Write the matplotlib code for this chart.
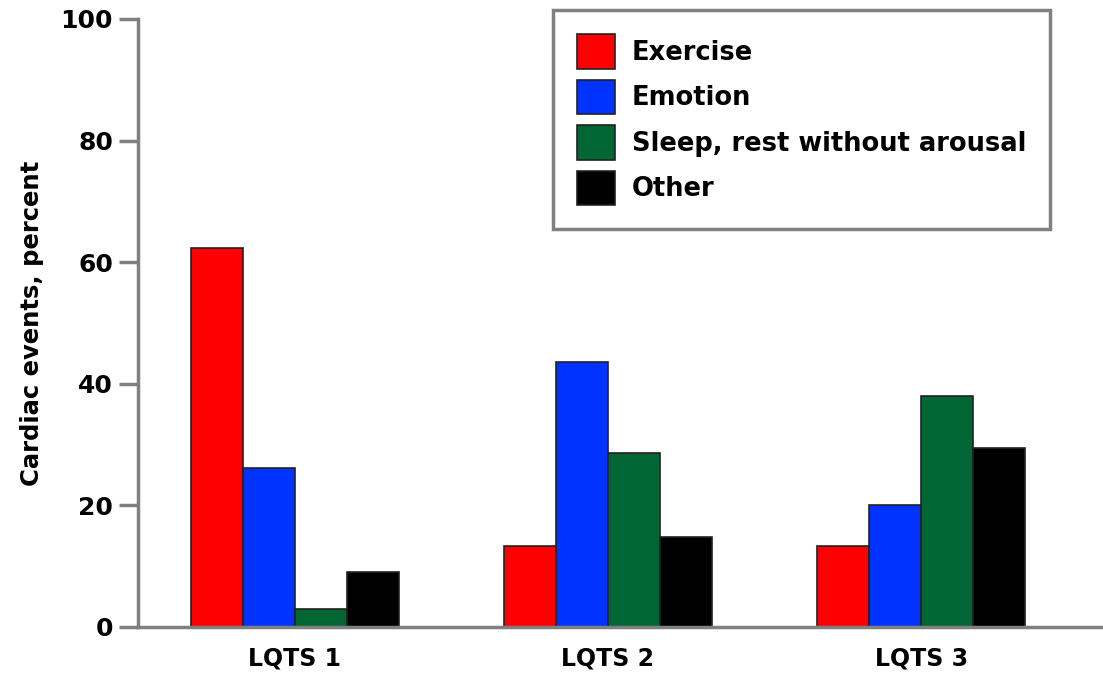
import numpy as np
import matplotlib
matplotlib.use("Agg")
import matplotlib.pyplot as plt

# data
groups = ["LQTS 1", "LQTS 2", "LQTS 3"]
triggers = ["Exercise", "Emotion", "Sleep, rest without arousal", "Other"]
exercise = [62.3, 13.4, 13.4]
emotion = [26.1, 43.6, 20.0]
sleep = [3.0, 28.7, 38.0]
other = [9.1, 14.8, 29.5]
colors = ["#ff0000", "#0033ff", "#006633", "#000000"]

plt.rcParams["font.family"] = "DejaVu Sans"
plt.rcParams["font.weight"] = "bold"

fig = plt.figure(figsize=(11.03, 6.73), dpi=100)
ax = fig.add_axes([138 / 1103, 1 - 627 / 673, 1 - 138 / 1103, (627 - 19) / 673])

x = np.arange(len(groups))
width = 0.166
for i, (vals, name) in enumerate(zip([exercise, emotion, sleep, other], triggers)):
    ax.bar(x + (i - 1.5) * width, vals, width, color=colors[i],
           edgecolor="#222222", linewidth=1.2, label=name)

ax.set_xlim(-0.5, 2.58)
ax.set_ylim(0, 100)
ax.set_yticks([0, 20, 40, 60, 80, 100])
ax.set_xticks(x)
ax.set_xticklabels(groups, fontsize=17, fontweight="bold")
ax.tick_params(axis="x", length=0, pad=14)
ax.tick_params(axis="y", length=14, width=2.5, color="#808080", labelsize=18, pad=4)
for lab in ax.get_yticklabels():
    lab.set_fontweight("bold")
for s in ["top", "right"]:
    ax.spines[s].set_visible(False)
for s in ["left", "bottom"]:
    ax.spines[s].set_color("#808080")
    ax.spines[s].set_linewidth(2.5)

ax.set_ylabel("Cardiac events, percent", fontsize=17.5, fontweight="bold", labelpad=12)

leg = ax.legend(loc="upper left", bbox_to_anchor=(553 / 1103, 1 - 10 / 673),
                bbox_transform=fig.transFigure, borderaxespad=0, fontsize=18.5,
                fancybox=False, framealpha=1, handlelength=1.45, handleheight=1.68,
                handletextpad=0.66, labelspacing=0.43, borderpad=0.95)
leg.get_frame().set_edgecolor("#808080")
leg.get_frame().set_linewidth(2.5)
for t in leg.get_texts():
    t.set_fontweight("bold")

fig.savefig("out.png", dpi=100)
